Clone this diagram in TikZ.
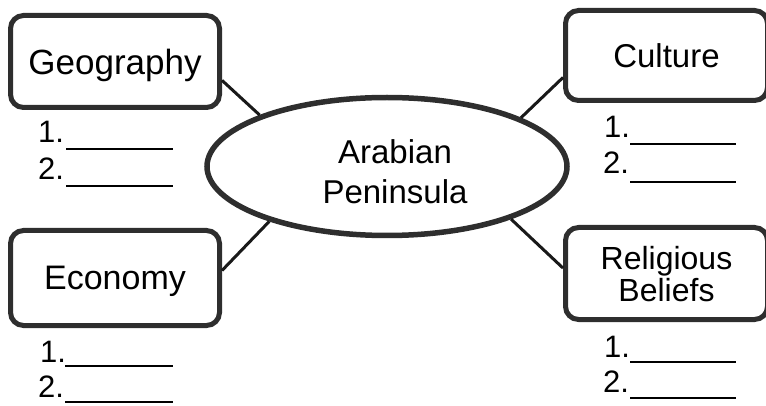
\documentclass[tikz,border=0pt]{standalone}
\usepackage{fontspec}
\setmainfont{Liberation Sans}
\usetikzlibrary{shapes.geometric}
\begin{document}
\begin{tikzpicture}[x=1pt,y=-1pt,
  topicbox/.style={draw=black!82, line width=5pt, rounded corners=13pt, align=center,
    inner sep=0pt, text depth=0pt},
  hub/.style={draw=black!82, line width=5.5pt, ellipse, inner sep=0pt,
    minimum width=360pt, minimum height=138pt},
  hubtext/.style={align=center, inner sep=0pt, font=\fontsize{33}{40}\selectfont},
  link/.style={line width=3pt, draw=black!90},
  numlabel/.style={anchor=base west, inner sep=0pt, font=\fontsize{31}{31}\selectfont},
  blank/.style={line width=2.2pt, draw=black}]
\useasboundingbox (0,0) rectangle (766,406);
\clip (0,0) rectangle (766,406);

% central ellipse
\node[hub] (hub) at (387,166.5) {};
\node[hubtext] (hubt) at (395,172) {Arabian\\Peninsula};

% topic boxes
\node[topicbox, minimum width=209pt, minimum height=92pt, font=\fontsize{35}{35}\selectfont]
  (geo) at (115,61.5) {Geography};
\node[topicbox, minimum width=209pt, minimum height=95pt, font=\fontsize{34}{34}\selectfont]
  (eco) at (115,278) {Economy};
\node[topicbox, minimum width=202pt, minimum height=90pt, font=\fontsize{33}{33}\selectfont]
  (cul) at (666.5,55.5) {Culture};
\node[topicbox, minimum width=202pt, minimum height=92pt, font=\fontsize{32}{32}\selectfont]
  (rel) at (666.5,273.5) {Religious\\Beliefs};

% connectors
\draw[link] (geo.-10) -- (hub.158);
\draw[link] (eco.4) -- (hub.205);
\draw[link] (cul.192) -- (hub.20);
\draw[link] (rel.177) -- (hub.-23);

% numbered blanks: Geography
\node[numlabel] (g1) at (38,143) {1.};
\node[numlabel] (g2) at (38,180) {2.};
\draw[blank] (66,149) -- (173,149);
\draw[blank] (66,186) -- (173,186);
% Economy
\node[numlabel] (e1) at (40,362) {1.};
\node[numlabel] (e2) at (38,397) {2.};
\draw[blank] (65,366) -- (173,366);
\draw[blank] (65,402) -- (173,402);
% Culture
\node[numlabel] (c1) at (604,138) {1.};
\node[numlabel] (c2) at (603,174) {2.};
\draw[blank] (630,144) -- (736,144);
\draw[blank] (630,182) -- (736,182);
% Religious Beliefs
\node[numlabel] (r1) at (604,357) {1.};
\node[numlabel] (r2) at (603,392) {2.};
\draw[blank] (630,362) -- (736,362);
\draw[blank] (630,398) -- (736,398);
\end{tikzpicture}
\end{document}
